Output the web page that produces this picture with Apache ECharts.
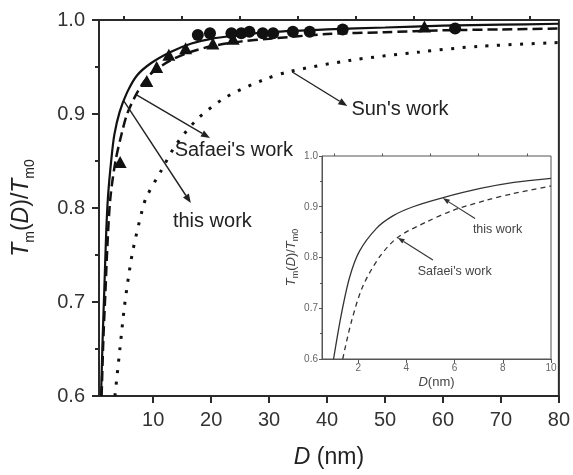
<!DOCTYPE html>
<html><head><meta charset="utf-8">
<script src="https://cdn.jsdelivr.net/npm/echarts@6/dist/echarts.min.js"></script>
<style>html,body{margin:0;padding:0;background:#fff}#c{width:573px;height:475px}</style>
</head><body><div id="c"></div>
<script>
// ---- data ----
const thisWorkMain = [[1.0,0.6],[1.3,0.665],[1.55,0.71],[1.9,0.775],[2.2,0.812],[2.8,0.853],[3.3,0.878],[4.2,0.902],[5.5,0.923],[7.2,0.941],[9.6,0.954],[13,0.966],[16.6,0.975],[20,0.98],[25,0.984],[30,0.987],[40,0.990],[50,0.992],[60,0.994],[70,0.995],[80,0.996]];
const safaeiMain = [[1.1,0.6],[1.4,0.66],[1.75,0.71],[2.1,0.76],[2.6,0.81],[3.5,0.85],[4.6,0.88],[5.5,0.9],[7,0.92],[8.5,0.935],[10,0.945],[13,0.957],[16,0.965],[20,0.972],[25,0.977],[30,0.980],[40,0.985],[50,0.987],[60,0.989],[70,0.990],[80,0.991]];
const sunMain = [[3.4,0.60],[4.27,0.651],[4.96,0.691],[5.65,0.723],[6.5,0.755],[8.2,0.80],[8.86,0.812],[11.4,0.84],[13.9,0.867],[17.7,0.895],[22.6,0.918],[28.9,0.936],[33.4,0.945],[43.9,0.957],[56,0.966],[66.2,0.972],[80,0.976]];
const circleD = [17.7,19.8,23.5,25.2,26.6,28.9,30.7,34.1,37.0,42.7,62.1];
const circleT = [0.984,0.986,0.986,0.986,0.9875,0.986,0.986,0.9875,0.9875,0.990,0.991];
const triangleD = [4.3,8.9,10.6,12.7,15.6,20.3,23.8,56.8];
const triangleT = [0.849,0.935,0.950,0.963,0.970,0.975,0.980,0.993];
const thisWorkInset = [[0.98,0.6],[1.29,0.685],[1.64,0.76],[2.05,0.812],[2.75,0.857],[3.44,0.882],[4.28,0.900],[5.53,0.918],[7.07,0.936],[8.46,0.948],[10,0.956]];
const safaeiInset = [[1.36,0.6],[1.71,0.672],[2.19,0.743],[2.9,0.802],[3.65,0.840],[4.83,0.870],[5.94,0.893],[7.33,0.913],[8.44,0.926],[10,0.941]];
const mainXLabels = [10,20,30,40,50,60,70,80];
const mainXMinor = [5,15,25,35,45,55,65,75];
const insetXLabels = [2,4,6,8,10];
const insetXMinor = [1,3,5,7,9];
// annotations: [label, textAt, arrowFrom, arrowTo] in data coordinates
const mainNotes = [
  ["Sun's work", [44.2,0.9043], [34.0,0.9447], [43.5,0.9085]],
  ["Safaei's work", [13.7,0.8617], [7.2,0.920], [19.8,0.8745]],
  ["this work", [13.4,0.786], [4.96,0.9138], [16.5,0.8053]]
];
const insetNotes = [
  ["this work", [6.76,0.856], [6.85,0.877], [5.51,0.917]],
  ["Safaei's work", [4.47,0.772], [5.10,0.795], [3.64,0.839]]
];

const FF = '"Liberation Sans", Arial, sans-serif';
const AX = '#2a2a2a';
const chart = echarts.init(document.getElementById('c'));
const zip = (a,b)=>a.map((v,i)=>[v,b[i]]);

const yName = '{i|T}{s|m}{n|(}{i|D}{n|)/}{i|T}{s|m0}';
function richSet(big, small, col){
  return {
    i:{fontStyle:'italic',fontSize:big,fontFamily:FF,color:col},
    n:{fontSize:big,fontFamily:FF,color:col},
    s:{fontSize:small,fontFamily:FF,color:col,verticalAlign:'bottom',lineHeight:big*1.35}
  };
}
const SM = 0.3;

chart.setOption({
  animation:false,
  grid:[
    {left:99,top:20,width:461,height:376,show:true,borderColor:AX,borderWidth:2,backgroundColor:'transparent'},
    {left:322,top:156,width:229,height:203,show:true,borderColor:'#555',borderWidth:1,backgroundColor:'#fff'}
  ],
  xAxis:[
    {type:'value',gridIndex:0,min:0.65,max:80,
     axisLine:{show:true,onZero:false,lineStyle:{color:AX,width:2}},
     axisTick:{show:true,customValues:mainXLabels,length:7,lineStyle:{color:AX,width:2}},
     axisLabel:{customValues:mainXLabels,fontSize:20,color:'#333',fontFamily:FF,margin:14},
     splitLine:{show:false},
     name:'{i|D}{n| (nm)}',nameLocation:'middle',nameGap:50,
     nameTextStyle:{rich:richSet(23,14,'#222')}},
    {type:'value',gridIndex:0,min:0.65,max:80,
     axisLine:{show:false},
     axisTick:{show:true,customValues:mainXMinor,length:4,lineStyle:{color:AX,width:2}},
     axisLabel:{show:false},splitLine:{show:false}},
    {type:'value',gridIndex:1,min:0.5,max:10,
     axisLine:{show:true,onZero:false,lineStyle:{color:'#555',width:1}},
     axisTick:{show:true,customValues:insetXLabels,length:4,lineStyle:{color:'#555',width:1}},
     axisLabel:{customValues:insetXLabels,fontSize:10,color:'#666',fontFamily:FF,margin:4},
     splitLine:{show:false},
     name:'{i|D}{n|(nm)}',nameLocation:'middle',nameGap:17,
     nameTextStyle:{rich:richSet(13,9,'#444')}},
    {type:'value',gridIndex:1,min:0.5,max:10,
     axisLine:{show:false},
     axisTick:{show:true,customValues:insetXMinor,length:2.5,lineStyle:{color:'#555',width:1}},
     axisLabel:{show:false},splitLine:{show:false}}
  ],
  yAxis:[
    {type:'value',gridIndex:0,min:0.6,max:1.0,interval:0.1,
     axisLine:{show:true,onZero:false,lineStyle:{color:AX,width:2}},
     axisTick:{show:true,length:7,lineStyle:{color:AX,width:2}},
     minorTick:{show:true,splitNumber:2,length:4,lineStyle:{color:AX,width:2}},
     axisLabel:{fontSize:20,color:'#333',fontFamily:FF,margin:14,formatter:v=>v.toFixed(1)},
     splitLine:{show:false},
     name:yName,nameLocation:'middle',nameGap:62,
     nameTextStyle:{rich:richSet(23,14,'#222')}},
    {type:'value',gridIndex:1,min:0.6,max:1.0,interval:0.1,
     axisLine:{show:true,onZero:false,lineStyle:{color:'#555',width:1}},
     axisTick:{show:true,length:3,lineStyle:{color:'#555',width:1}},
     minorTick:{show:true,splitNumber:2,length:2,lineStyle:{color:'#555',width:1}},
     axisLabel:{fontSize:10,color:'#666',fontFamily:FF,margin:4,formatter:v=>v.toFixed(1)},
     splitLine:{show:false},
     name:yName,nameLocation:'middle',nameGap:22,
     nameTextStyle:{rich:richSet(13,9,'#444')}}
  ],
  series:[
    {type:'line',xAxisIndex:0,yAxisIndex:0,data:sunMain,showSymbol:false,smooth:SM,
     lineStyle:{color:'#111',width:3,type:[3,8.5],cap:'butt'}},
    {type:'line',xAxisIndex:0,yAxisIndex:0,data:safaeiMain,showSymbol:false,smooth:SM,
     lineStyle:{color:'#111',width:2.5,type:[10,5]}},
    {type:'line',xAxisIndex:0,yAxisIndex:0,data:thisWorkMain,showSymbol:false,smooth:SM,
     lineStyle:{color:'#111',width:2.2}},
    {type:'scatter',xAxisIndex:0,yAxisIndex:0,data:zip(triangleD,triangleT),symbol:'triangle',symbolSize:[13,12],
     itemStyle:{color:'#111',opacity:1},z:5},
    {type:'scatter',xAxisIndex:0,yAxisIndex:0,data:zip(circleD,circleT),symbol:'circle',symbolSize:12,
     itemStyle:{color:'#111',opacity:1},z:5},
    {type:'line',xAxisIndex:2,yAxisIndex:1,data:thisWorkInset,showSymbol:false,smooth:SM,
     lineStyle:{color:'#333',width:1.3}},
    {type:'line',xAxisIndex:2,yAxisIndex:1,data:safaeiInset,showSymbol:false,smooth:SM,
     lineStyle:{color:'#333',width:1.3,type:[5,4]}}
  ]
});

function arrow(p0,p1,len,half,col,w){
  const dx=p1[0]-p0[0], dy=p1[1]-p0[1], L=Math.hypot(dx,dy), ux=dx/L, uy=dy/L;
  const bx=p1[0]-ux*len, by=p1[1]-uy*len;
  return [
    {type:'line',shape:{x1:p0[0],y1:p0[1],x2:bx,y2:by},style:{stroke:col,lineWidth:w},z:20},
    {type:'polygon',shape:{points:[[p1[0],p1[1]],[bx-uy*half,by+ux*half],[bx+uy*half,by-ux*half]]},style:{fill:col},z:20}
  ];
}
const g=[];
mainNotes.forEach(n=>{
  const t=chart.convertToPixel({gridIndex:0},n[1]);
  const a=chart.convertToPixel({gridIndex:0},n[2]);
  const b=chart.convertToPixel({gridIndex:0},n[3]);
  g.push({type:'text',x:t[0],y:t[1],style:{text:n[0],font:'20px '+FF,fill:'#222',textVerticalAlign:'middle'},z:20});
  g.push(...arrow(a,b,9,3.5,'#222',1.4));
});
insetNotes.forEach(n=>{
  const t=chart.convertToPixel({gridIndex:1},n[1]);
  const a=chart.convertToPixel({gridIndex:1},n[2]);
  const b=chart.convertToPixel({gridIndex:1},n[3]);
  g.push({type:'text',x:t[0],y:t[1],style:{text:n[0],font:'12.5px '+FF,fill:'#444',textVerticalAlign:'middle'},z:20});
  g.push(...arrow(a,b,7,2.5,'#333',1.1));
});
chart.setOption({graphic:g});
</script></body></html>
